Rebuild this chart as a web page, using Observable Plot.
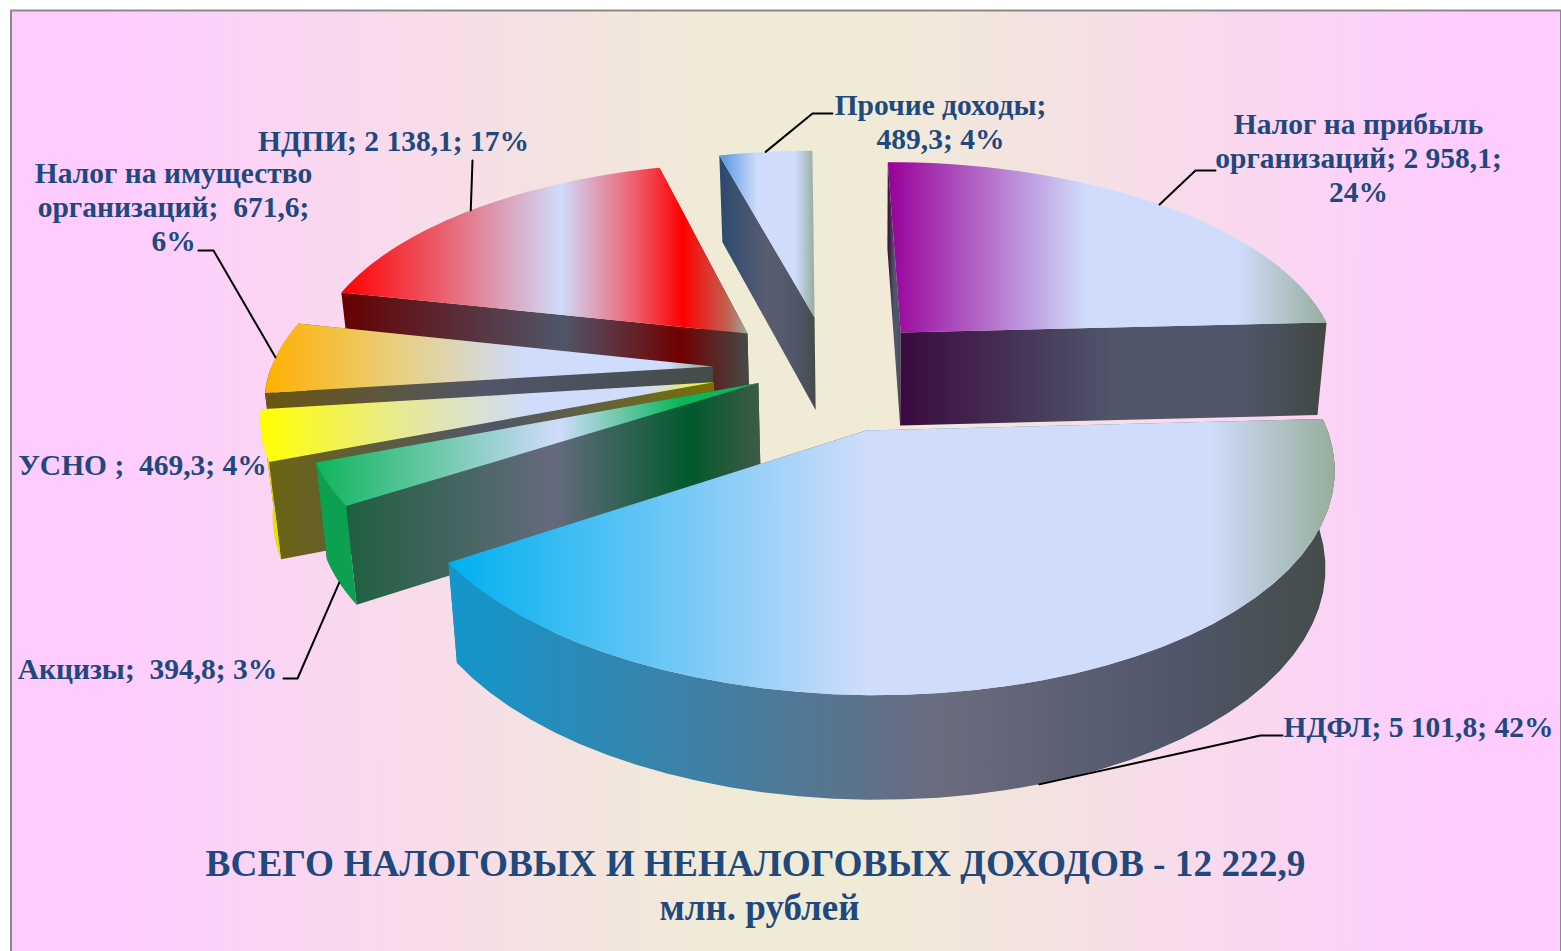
<!DOCTYPE html>
<html lang="ru"><head><meta charset="utf-8">
<style>html,body{margin:0;padding:0;background:#fff;overflow:hidden}svg{display:block}</style>
<script src="https://cdn.jsdelivr.net/npm/d3@7"></script>
<script src="https://cdn.jsdelivr.net/npm/@observablehq/plot@0.6"></script>
</head><body><script>
// ---- data (clockwise from the right edge)
const categories = ["НДФЛ","Акцизы","УСНО","Налог на имущество организаций","НДПИ","Прочие доходы","Налог на прибыль организаций"];
const values = [5101.8,394.8,469.3,671.6,2138.1,489.3,2958.1];
const labels = ["НДФЛ; 5 101,8; 42%","Акцизы;  394,8; 3%","УСНО ;  469,3; 4%","Налог на имущество\nорганизаций;  671,6;\n6%","НДПИ; 2 138,1; 17%","Прочие доходы;\n489,3; 4%","Налог на прибыль\nорганизаций; 2 958,1;\n24%"];
const title = "ВСЕГО НАЛОГОВЫХ И НЕНАЛОГОВЫХ ДОХОДОВ - 12 222,9";
const subtitle = "млн. рублей";

// ---- layout: ground-plane offset of each exploded slice
const startAngle = -3;
const explodeX = [-0.013,-0.25,-0.35,-0.355,-0.279,-0.123,0.077];
const explodeZ = [0.165,-0.055,-0.058,-0.134,-0.299,-0.382,-0.304];
const paintOrder = [5,4,6,3,2,1,0];
const labelX = [1418,147,142,173,393,940,1358];
const labelY = [725.5,667.5,463.5,205.5,139.5,120.5,156.5];
const elbowX = [[1282,1260],[283,297],[null,null],[198,213],[472,472],[832,812],[1215,1195]];
const elbowY = [735,678,null,250,160,113,170];
const leaderH = [1,1,0,0,0,0,0];

// ---- styles
const topStops = [
 [[0,"#00b0f0"],[.47,"#cfdcfb"],[.86,"#cfdcfb"],[1,"#97ad9c"]],
 [[0,"#0db55c"],[.55,"#cfdcfb"],[.82,"#0db55c"],[1,"#0db55c"]],
 [[0,"#ffff00"],[.3,"#e8ea90"],[.6,"#cfdcfb"],[.85,"#cfdcfb"],[1,"#f4f420"]],
 [[0,"#ffb000"],[.3,"#e8d080"],[.58,"#cfdcfb"],[.9,"#cfdcfb"],[1,"#8fa398"]],
 [[0,"#ff0000"],[.25,"#ea6070"],[.54,"#cfdcfb"],[.72,"#ee6070"],[.84,"#ff0000"],[.95,"#c06050"],[1,"#97ad9c"]],
 [[0,"#5596e0"],[.4,"#cfdcfb"],[.8,"#cfdcfb"],[1,"#97ad9c"]],
 [[0,"#990099"],[.45,"#cfdcfb"],[.8,"#cfdcfb"],[1,"#97ad9c"]]
];
const wallStops = [
 [[0,"#1296cc"],[.56,"#6b6b7e"],[.82,"#50566a"],[1,"#434c48"]],
 [[0,"#1f5f40"],[.5,"#666a7e"],[.83,"#005a2c"],[1,"#3f5a48"]],
 [[0,"#6b6412"],[.5,"#50566a"],[1,"#7a7000"]],
 [[0,"#6b5510"],[.5,"#50566a"],[1,"#434c48"]],
 [[0,"#650000"],[.54,"#50566a"],[.83,"#700000"],[1,"#434c48"]],
 [[0,"#2a4a70"],[.5,"#5a5d70"],[.8,"#50566a"],[1,"#434c48"]],
 [[0,"#3a0a40"],[.5,"#50566a"],[.8,"#50566a"],[1,"#3f4842"]]
];
const outerFill = ["url(#wall0)","#0da050","#e8e000","#6b5510","#650000","#2a4a70","#3a0a40"];
const textColor = "#1f497d";

// ---- projection of the tilted pie
const P = {x0:870,y0:394,A:450,B:213,p:0.15,C:10,H:95,v:0.02};
const project = (X,Z,h=0) => {
  const s = 1/(1-P.p*Z);
  return {x:P.x0+(P.A*X+P.C*Z)*s*(1-P.v*h), y:P.y0+P.B*Z*s+P.H*Math.sqrt(s)*h};
};
const total = d3.sum(values);
const toA = v => v/total*360;
let acc = startAngle;
const slices = values.map((v,i)=>{const a0=acc; acc+=toA(v); return {i,a0,a1:acc,ox:explodeX[i],oz:explodeZ[i]};});
const ptAt = (s,a,h=0) => project(s.ox+Math.cos(a*Math.PI/180), s.oz+Math.sin(a*Math.PI/180), h);
const arc = (s,a0,a1,h) => d3.range(0,41).map(k=>ptAt(s,a0+(a1-a0)*k/40,h));
const apex = (s,h=0) => project(s.ox,s.oz,h);
const faceTop = s => [apex(s),...arc(s,s.a0,s.a1,0)];
const wallRadial = (s,a) => [apex(s),ptAt(s,a,0),ptAt(s,a,1),apex(s,1)];
const wallOuter = s => { const b=Math.min(s.a1,180); return s.a0<180 ? [...arc(s,s.a0,b,0),...arc(s,b,s.a0,1)] : []; };

const shape = (d,fill)=>Plot.line(d,{x:"x",y:"y",fill,stroke:"none",curve:"linear"});
const sliceMarks = paintOrder.flatMap(i=>{
  const s=slices[i];
  return [
    shape(wallRadial(s,s.a1),`url(#wall${i})`),
    shape(wallRadial(s,s.a0),`url(#wall${i})`),
    shape(wallOuter(s),outerFill[i]),
    shape(faceTop(s),`url(#top${i})`)
  ];
});
const leaders = slices.filter(s=>elbowY[s.i]!=null).map(s=>{
  const m=(s.a0+s.a1)/2, e=ptAt(s,m,leaderH[s.i]);
  return [{x:elbowX[s.i][0],y:elbowY[s.i]},{x:elbowX[s.i][1],y:elbowY[s.i]},e];
});
const labelRows = labels.map((t,i)=>({t,x:labelX[i],y:labelY[i]}));

const defs = ()=>{
  const g=d3.create("svg:defs");
  const add=(id,stops)=>{const l=g.append("linearGradient").attr("id",id);
    stops.forEach(([o,c])=>l.append("stop").attr("offset",o).attr("stop-color",c));};
  add("bg",[[0,"#ffccff"],[.06,"#ffccff"],[.46,"#f0ebd6"],[.56,"#f0ebd6"],[.94,"#ffccff"],[1,"#ffccff"]]);
  topStops.forEach((st,i)=>add("top"+i,st));
  wallStops.forEach((st,i)=>add("wall"+i,st));
  return g.node();
};
const W=1561,H=951;
const chart = Plot.plot({
  width:W,height:H,margin:0,
  x:{domain:[0,W],range:[0,W],axis:null},
  y:{domain:[0,H],range:[0,H],axis:null},
  style:{background:"#fff"},
  marks:[
    defs,
    Plot.rect([{}],{x1:()=>11,x2:()=>W,y1:()=>10.5,y2:()=>H+5,fill:"url(#bg)",stroke:"#8a8a8a",strokeWidth:2}),
    ...sliceMarks,
    ...leaders.map(l=>Plot.line(l,{x:"x",y:"y",stroke:"#000",strokeWidth:2,curve:"linear"})),
    Plot.text(labelRows,{x:"x",y:"y",text:"t",fill:textColor,fontSize:29.5,fontWeight:"bold",fontFamily:"Liberation Serif",textAnchor:"middle",lineAnchor:"middle",lineHeight:1.15}),
    Plot.text([title],{x:()=>755,y:()=>864,text:d=>d,fill:textColor,fontSize:37.3,fontWeight:"bold",fontFamily:"Liberation Serif",textAnchor:"middle",lineAnchor:"middle"}),
    Plot.text([subtitle],{x:()=>759,y:()=>908,text:d=>d,fill:textColor,fontSize:37,fontWeight:"bold",fontFamily:"Liberation Serif",textAnchor:"middle",lineAnchor:"middle"})
  ]
});
document.body.append(chart);
</script></body></html>
